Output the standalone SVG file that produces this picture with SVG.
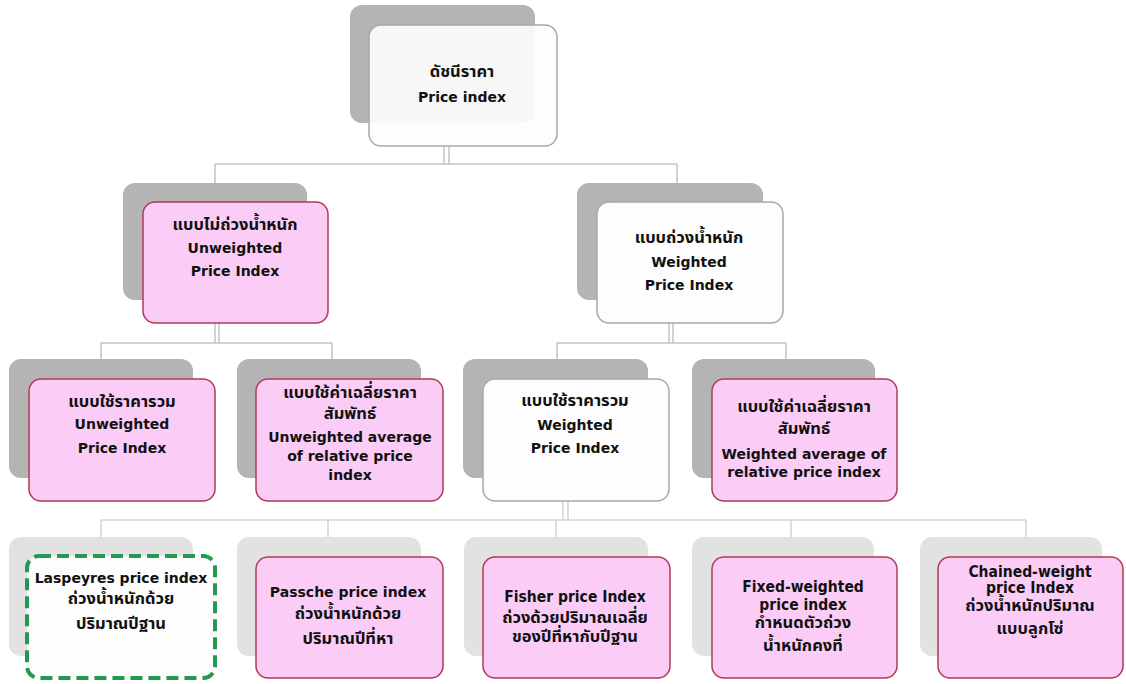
<svg xmlns="http://www.w3.org/2000/svg" width="1126" height="684" viewBox="0 0 1126 684">
<style>
.sh{fill:#b4b4b4}
.sh4{fill:#e2e2e2}
.pk{fill:#fbcdf6;stroke:#b03a55;stroke-width:1.5}
.wh{fill:#fdfdfd;stroke:#a8a8a8;stroke-width:1.5}
.gr{fill:#fdfdfd;stroke:#1f9a4e;stroke-width:4;stroke-dasharray:12 6}
.ln{stroke:#c4c4c4;stroke-width:1.5;fill:none}
.ln4{stroke:#d4d4d4;stroke-width:1.5;fill:none}
text{font-family:"DejaVu Sans","Noto Sans Thai","Noto Sans","Liberation Sans",sans-serif;font-weight:bold;font-size:14px;fill:#111;text-anchor:middle}
.cn{font-family:"DejaVu Sans Condensed","DejaVu Sans","Noto Sans Thai","Noto Sans",sans-serif;font-size:15.5px}
.th{font-size:16.5px}
</style>
<rect width="1126" height="684" fill="#ffffff"/>
<g id="connectors">
<path class="ln" d="M444 147V164M449 147V164M215 164H677M215 164V183M677 164V183"/>
<path class="ln" d="M215 323V343M219 323V343M101 343H332M101 343V359M332 343V359"/>
<path class="ln" d="M669 323V343M673 323V343M557 343H786M557 343V359M786 343V359"/>
<path class="ln4" d="M563 501V520M568 501V520M101 520H1026M101 520V537M328 520V537M556 520V537M791 520V537M1026 520V537"/>
</g>
<g id="n-root">
<rect class="sh" x="350" y="5" width="185" height="118" rx="12"/>
<rect class="wh" x="369" y="25" width="188" height="121" rx="12" fill-opacity="0.92"/>
<text class="th" x="462" y="77">ดัชนีราคา</text>
<text x="462" y="102">Price index</text>
</g>
<g id="n-unweighted">
<rect class="sh" x="123" y="183" width="184" height="117" rx="12"/>
<rect class="pk" x="143" y="202" width="185" height="121" rx="12"/>
<text class="th" x="235" y="230">แบบไม่ถ่วงน้ำหนัก</text>
<text x="235" y="253">Unweighted</text>
<text x="235" y="276">Price Index</text>
</g>
<g id="n-weighted">
<rect class="sh" x="577" y="183" width="186" height="117" rx="12"/>
<rect class="wh" x="597" y="202" width="186" height="121" rx="12"/>
<text class="th" x="689" y="243">แบบถ่วงน้ำหนัก</text>
<text x="689" y="267">Weighted</text>
<text x="689" y="290">Price Index</text>
</g>
<g id="n-uw-agg">
<rect class="sh" x="9" y="359" width="184" height="119" rx="12"/>
<rect class="pk" x="29" y="379" width="186" height="122" rx="12"/>
<text class="th" x="122" y="407">แบบใช้ราคารวม</text>
<text x="122" y="429">Unweighted</text>
<text x="122" y="453">Price Index</text>
</g>
<g id="n-uw-rel">
<rect class="sh" x="237" y="359" width="184" height="119" rx="12"/>
<rect class="pk" x="256" y="379" width="187" height="122" rx="12"/>
<text class="th" x="350" y="398">แบบใช้ค่าเฉลี่ยราคา</text>
<text class="th" x="350" y="419">สัมพัทธ์</text>
<text x="350" y="442">Unweighted average</text>
<text x="350" y="461">of relative price</text>
<text x="350" y="480">index</text>
</g>
<g id="n-w-agg">
<rect class="sh" x="463" y="359" width="185" height="119" rx="12"/>
<rect class="wh" x="483" y="379" width="186" height="122" rx="12"/>
<text class="th" x="575" y="406">แบบใช้ราคารวม</text>
<text x="575" y="430">Weighted</text>
<text x="575" y="453">Price Index</text>
</g>
<g id="n-w-rel">
<rect class="sh" x="692" y="359" width="183" height="119" rx="12"/>
<rect class="pk" x="712" y="379" width="185" height="122" rx="12"/>
<text class="th" x="804" y="412">แบบใช้ค่าเฉลี่ยราคา</text>
<text class="th" x="804" y="434">สัมพัทธ์</text>
<text x="804" y="459">Weighted average of</text>
<text x="804" y="477">relative price index</text>
</g>
<g id="n-laspeyres">
<rect class="sh4" x="9" y="537" width="184" height="119" rx="12"/>
<rect class="gr" x="27" y="556" width="188" height="122" rx="12"/>
<text x="121" y="583">Laspeyres price index</text>
<text class="th" x="121" y="604">ถ่วงน้ำหนักด้วย</text>
<text class="th" x="121" y="629">ปริมาณปีฐาน</text>
</g>
<g id="n-passche">
<rect class="sh4" x="237" y="537" width="184" height="119" rx="12"/>
<rect class="pk" x="256" y="557" width="187" height="121" rx="12"/>
<text x="348" y="597">Passche price index</text>
<text class="th" x="348" y="619">ถ่วงน้ำหนักด้วย</text>
<text class="th" x="348" y="644">ปริมาณปีที่หา</text>
</g>
<g id="n-fisher">
<rect class="sh4" x="464" y="537" width="184" height="119" rx="12"/>
<rect class="pk" x="483" y="557" width="187" height="121" rx="12"/>
<text class="cn" x="575" y="602">Fisher price Index</text>
<text class="cn th" x="575" y="623">ถ่วงด้วยปริมาณเฉลี่ย</text>
<text class="cn th" x="575" y="642">ของปีที่หากับปีฐาน</text>
</g>
<g id="n-fixed">
<rect class="sh4" x="692" y="537" width="182" height="119" rx="12"/>
<rect class="pk" x="712" y="557" width="185" height="121" rx="12"/>
<text class="cn" x="803" y="592">Fixed-weighted</text>
<text class="cn" x="803" y="610">price index</text>
<text class="cn th" x="803" y="628">กำหนดตัวถ่วง</text>
<text class="cn th" x="803" y="651">น้ำหนักคงที่</text>
</g>
<g id="n-chained">
<rect class="sh4" x="920" y="537" width="182" height="119" rx="12"/>
<rect class="pk" x="938" y="557" width="185" height="121" rx="12"/>
<text class="cn" x="1030" y="577">Chained-weight</text>
<text class="cn" x="1030" y="593">price Index</text>
<text class="cn th" x="1030" y="611">ถ่วงน้ำหนักปริมาณ</text>
<text class="cn th" x="1030" y="634">แบบลูกโซ่</text>
</g>
</svg>
